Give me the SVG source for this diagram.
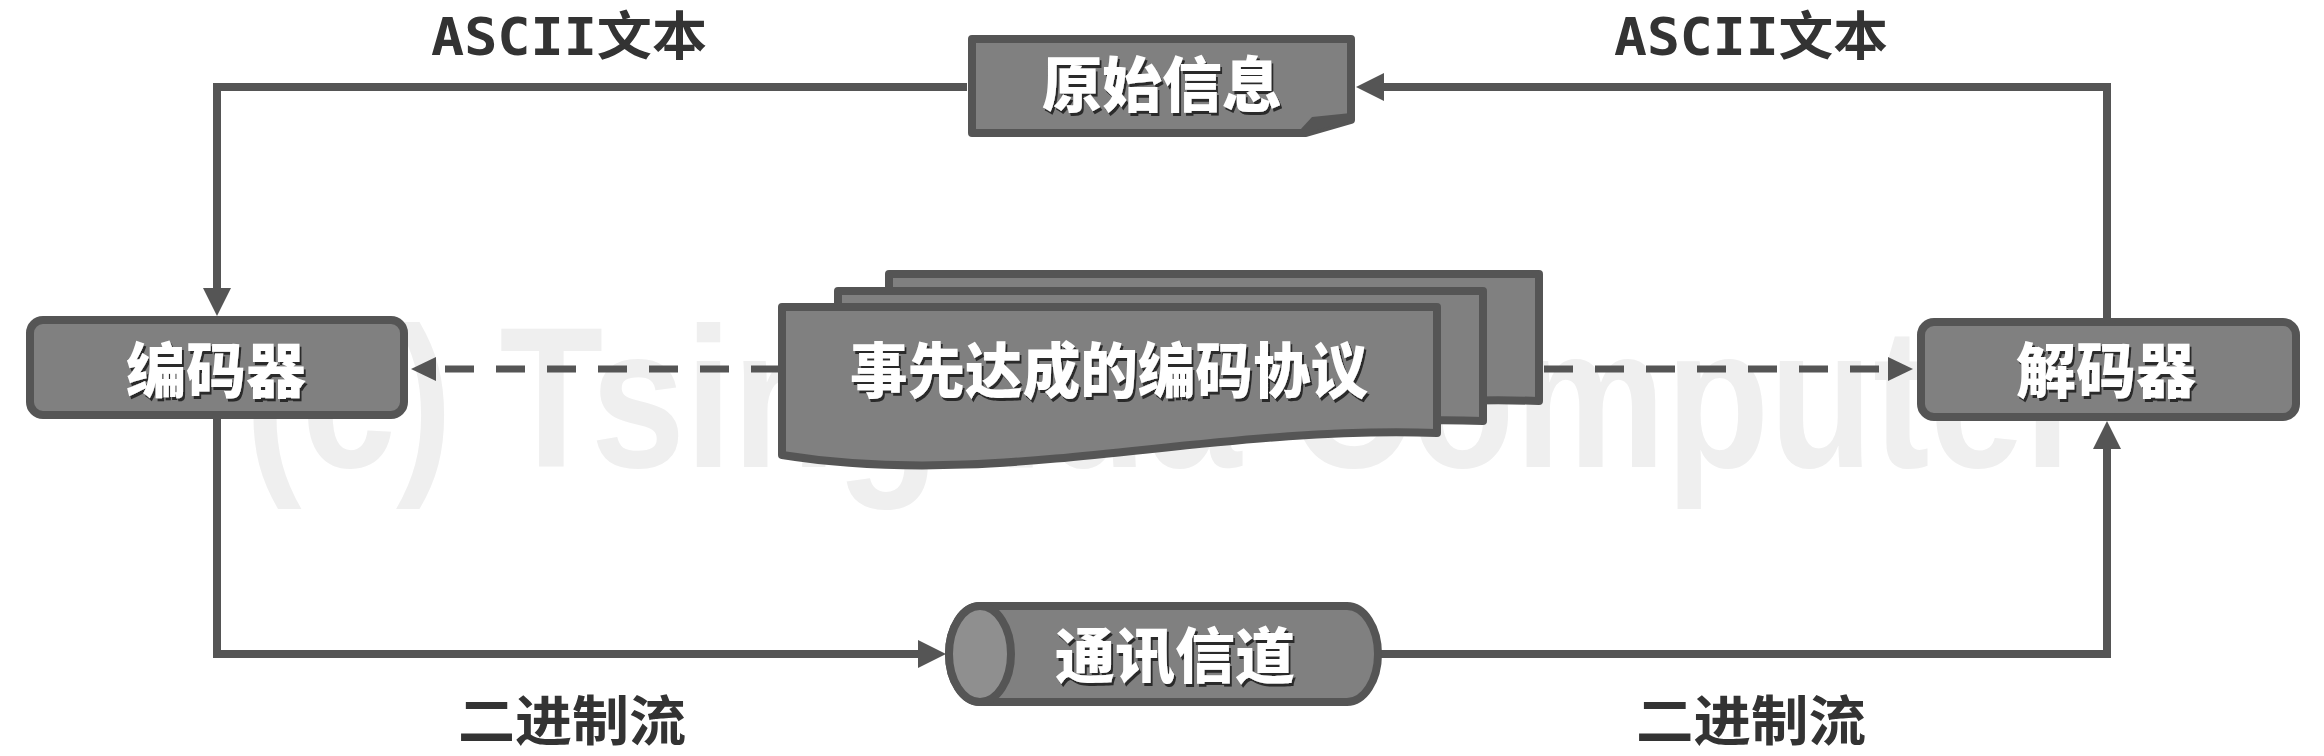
<svg xmlns="http://www.w3.org/2000/svg" width="2324" height="756" viewBox="0 0 2324 756">
  <defs>
    <style>
      .node { fill: #808080; stroke: #555555; stroke-width: 8; stroke-linejoin: round; }
      .cap { fill: #8f8f8f; stroke: #555555; stroke-width: 8; }
      .fold { fill: #555555; }
      .label { font-family: "Noto Sans CJK SC", "Noto Sans", sans-serif; font-weight: 900; font-size: 60px; fill: #ffffff; text-anchor: middle; filter: url(#sh); }
      .edge { font-family: "Noto Sans CJK SC", sans-serif; font-weight: 700; font-size: 54px; fill: #333333; text-anchor: middle; }
      .mono { font-family: "DejaVu Sans Mono", "Noto Sans CJK SC", monospace; font-weight: 700; font-size: 52px; fill: #333333; text-anchor: middle; }
      .wm { font-family: "Liberation Sans", "DejaVu Sans", sans-serif; font-weight: 700; font-size: 200px; fill: #efefef; }
      .line { fill: none; stroke: #555555; stroke-width: 8; }
      .dash { fill: none; stroke: #555555; stroke-width: 7; stroke-dasharray: 29 22; }
    </style>
    <filter id="sh" x="-5%" y="-15%" width="112%" height="140%">
      <feDropShadow dx="2" dy="3" stdDeviation="0.6" flood-color="#2b2b2b" flood-opacity="1"/>
    </filter>
    <marker id="arr" markerUnits="userSpaceOnUse" markerWidth="28" markerHeight="28" refX="0" refY="14" orient="auto">
      <path d="M0,0 L28,14 L0,28 Z" fill="#555555"/>
    </marker>
    <marker id="arrd" markerUnits="userSpaceOnUse" markerWidth="25" markerHeight="24" refX="0" refY="12" orient="auto">
      <path d="M0,0 L25,12 L0,24 Z" fill="#555555"/>
    </marker>
  </defs>

  <rect x="0" y="0" width="2324" height="756" fill="#ffffff"/>

  <text class="wm" x="245" y="467" textLength="1845" lengthAdjust="spacingAndGlyphs">(c) Tsinghua Computer</text>

  <g id="connectors">
    <path class="line" d="M967,87 H217 V288" marker-end="url(#arr)"/>
    <path class="line" d="M2107,318 V87 H1384" marker-end="url(#arr)"/>
    <path class="line" d="M217,419 V654 H918" marker-end="url(#arr)"/>
    <path class="line" d="M1378,654 H2107 V449" marker-end="url(#arr)"/>
    <path class="dash" d="M780,369 H436" marker-end="url(#arrd)"/>
    <path class="dash" d="M1544,369 H1888" marker-end="url(#arrd)"/>
  </g>

  <g id="labels">
    <text class="mono" x="569" y="55" textLength="276" lengthAdjust="spacingAndGlyphs">ASCII文本</text>
    <text class="mono" x="1751" y="55" textLength="274" lengthAdjust="spacingAndGlyphs">ASCII文本</text>
    <text class="edge" x="572" y="741" textLength="228" lengthAdjust="spacingAndGlyphs">二进制流</text>
    <text class="edge" x="1751" y="741" textLength="230" lengthAdjust="spacingAndGlyphs">二进制流</text>
  </g>

  <g id="source">
    <path class="node" d="M972,39 H1351 V120 L1306,133 H972 Z"/>
    <path class="fold" d="M1300,130 L1312,117 L1351,113 L1351,121 L1306,133 Z"/>
    <text class="label" x="1162" y="107">原始信息</text>
  </g>

  <g id="encoder">
    <rect class="node" x="30" y="320" width="374" height="95" rx="13"/>
    <text class="label" x="216" y="393">编码器</text>
  </g>

  <g id="decoder">
    <rect class="node" x="1921" y="322" width="375" height="95" rx="13"/>
    <text class="label" x="2106" y="393">解码器</text>
  </g>

  <g id="protocol">
    <path class="node" d="M889,274 H1539 V401 C1302,393 1107,458 889,423 Z"/>
    <path class="node" d="M838,291 H1483 V421 C1246,413 1056,478 838,443 Z"/>
    <path class="node" d="M782,307 H1437 V433 C1200,425 1000,490 782,455 Z"/>
    <text class="label" x="1109" y="393" textLength="518" lengthAdjust="spacingAndGlyphs">事先达成的编码协议</text>
  </g>

  <g id="channel">
    <path class="node" d="M980,606 H1347 A31,48 0 0 1 1347,702 H980 A31,48 0 0 1 980,606 Z"/>
    <ellipse class="cap" cx="980" cy="654" rx="31" ry="48"/>
    <text class="label" x="1175" y="678">通讯信道</text>
  </g>
</svg>
